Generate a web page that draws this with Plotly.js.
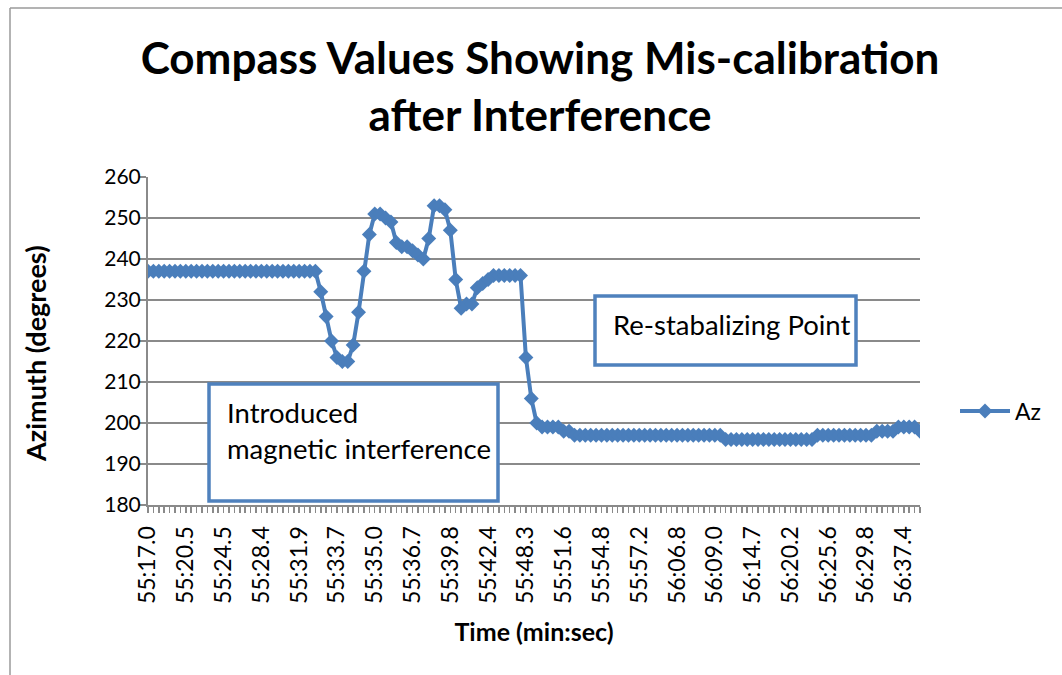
<!DOCTYPE html>
<html>
<head>
<meta charset="utf-8">
<script src="https://cdn.plot.ly/plotly-3.0.1.min.js"></script>
<style>
  html, body { margin: 0; padding: 0; background: #ffffff; }
  #chart { width: 1062px; height: 675px; }
</style>
</head>
<body>
<div id="chart"></div>
<script>
// ---- data ----
const seriesName = "Az";
const azimuth = [
  237,237,237,237,237,237,237,237,237,237,237,237,237,237,237,237,
  237,237,237,237,237,237,237,237,237,237,237,237,237,237,237,237,
  232,226,220,216,215,215,219,227,237,246,251,251,250,249,244,243,
  243,242,241,240,245,253,253,252,247,235,228,229,229,233,234,235,
  236,236,236,236,236,236,216,206,200,199,199,199,199,198,198,
  197,197,197,197,197,197,197,197,197,197,197,197,197,197,
  197,197,197,197,197,197,197,197,197,197,197,197,197,197,
  196,196,196,196,196,196,196,196,196,196,196,196,196,196,196,196,196,
  197,197,197,197,197,197,197,197,197,197,197,
  198,198,198,198,
  199,199,199,199,
  198
];
const tickLabels = [
  "55:17.0","55:20.5","55:24.5","55:28.4","55:31.9","55:33.7","55:35.0",
  "55:36.7","55:39.8","55:42.4","55:48.3","55:51.6","55:54.8","55:57.2",
  "56:06.8","56:09.0","56:14.7","56:20.2","56:25.6","56:29.8","56:37.4"
];
const labelEvery = 7;
const titleText = "Compass Values Showing Mis-calibration<br>after Interference";
const xTitle = "Time (min:sec)";
const yTitle = "Azimuth (degrees)";
const note1 = "Introduced<br>magnetic interference";
const note2 = "Re-stabalizing Point";

// ---- build ----
const idx = azimuth.map((_, i) => i);
const tickVals = tickLabels.map((_, k) => k * labelEvery);

const L = 148, R = 920, T = 177, B = 505;
const px = x => (x - L) / (R - L);
const py = y => (B - y) / (B - T);

const FONT = "Lato, 'Open Sans', sans-serif";
const BLUE = "#4A7EBB";
const BOXBLUE = "#4F81BD";
const GRID = "#8a8a8a";

const trace = {
  x: idx, y: azimuth, type: "scatter", mode: "lines+markers", name: seriesName,
  line: { color: BLUE, width: 4 },
  marker: { symbol: "diamond", size: 11.5, color: BLUE }
};

const layout = {
  width: 1062, height: 675,
  margin: { l: L, r: 1062 - R, t: T, b: 675 - B, pad: 0 },
  paper_bgcolor: "#ffffff", plot_bgcolor: "#ffffff",
  font: { family: FONT, color: "#000000", size: 22 },
  title: {
    text: titleText, xref: "container", yref: "container",
    x: 0.5085, xanchor: "center", y: 0.89, yanchor: "top",
    font: { family: FONT, size: 44, color: "#000000", weight: "bold" }
  },
  xaxis: {
    range: [0, azimuth.length - 1], tickmode: "array", tickvals: tickVals, ticktext: tickLabels,
    tickangle: -90, ticks: "outside", ticklen: 6, tickcolor: GRID, tickwidth: 1.5,
    showgrid: false, zeroline: false, showline: true, linecolor: GRID, linewidth: 2,
    tickfont: { family: FONT, size: 23, color: "#000" }, ticklabelstandoff: 4,
    minor: { dtick: 1, tick0: 0, ticks: "outside", ticklen: 6, tickcolor: GRID, tickwidth: 1.5, showgrid: false },
    title: { text: xTitle, font: { family: FONT, size: 25, weight: "bold", color: "#000" }, standoff: 20 }
  },
  yaxis: {
    range: [180, 260], dtick: 10, tick0: 180,
    ticks: "outside", ticklen: 7, tickcolor: GRID, tickwidth: 2,
    showgrid: true, gridcolor: GRID, gridwidth: 2,
    zeroline: false, showline: true, linecolor: GRID, linewidth: 2,
    tickfont: { family: FONT, size: 21, color: "#000" }, ticklabelstandoff: -6,
    title: { text: "" }
  },
  showlegend: true,
  legend: {
    x: px(955), y: py(411), xanchor: "left", yanchor: "middle",
    font: { family: FONT, size: 23, color: "#000" }, itemwidth: 50, bgcolor: "rgba(0,0,0,0)"
  },
  shapes: [
    { type: "line", xref: "paper", yref: "paper", x0: px(10), x1: px(1070), y0: py(8), y1: py(8),
      line: { color: "#9a9a9a", width: 1.5 } },
    { type: "line", xref: "paper", yref: "paper", x0: px(10), x1: px(10), y0: py(8), y1: py(680),
      line: { color: "#9a9a9a", width: 1.5 } },
    { type: "rect", xref: "paper", yref: "paper", layer: "above",
      x0: px(209), x1: px(498), y0: py(384), y1: py(501),
      fillcolor: "#ffffff", line: { color: BOXBLUE, width: 3.5 } },
    { type: "rect", xref: "paper", yref: "paper", layer: "above",
      x0: px(595), x1: px(856), y0: py(296), y1: py(365),
      fillcolor: "#ffffff", line: { color: BOXBLUE, width: 3.5 } }
  ],
  annotations: [
    { xref: "paper", yref: "paper", x: px(35), y: py(354), xanchor: "center", yanchor: "middle",
      textangle: -90, showarrow: false, text: "<b>" + yTitle + "</b>",
      font: { family: FONT, size: 27, color: "#000" } },
    { xref: "paper", yref: "paper", x: px(225), y: py(430.5), xanchor: "left", yanchor: "middle",
      align: "left", showarrow: false, text: note1,
      font: { family: FONT, size: 27.5, color: "#000" } },
    { xref: "paper", yref: "paper", x: px(611), y: py(324), xanchor: "left", yanchor: "middle",
      align: "left", showarrow: false, text: note2,
      font: { family: FONT, size: 27.5, color: "#000" } }
  ]
};

Plotly.newPlot("chart", [trace], layout, { displayModeBar: false, staticPlot: true });
</script>
</body>
</html>
